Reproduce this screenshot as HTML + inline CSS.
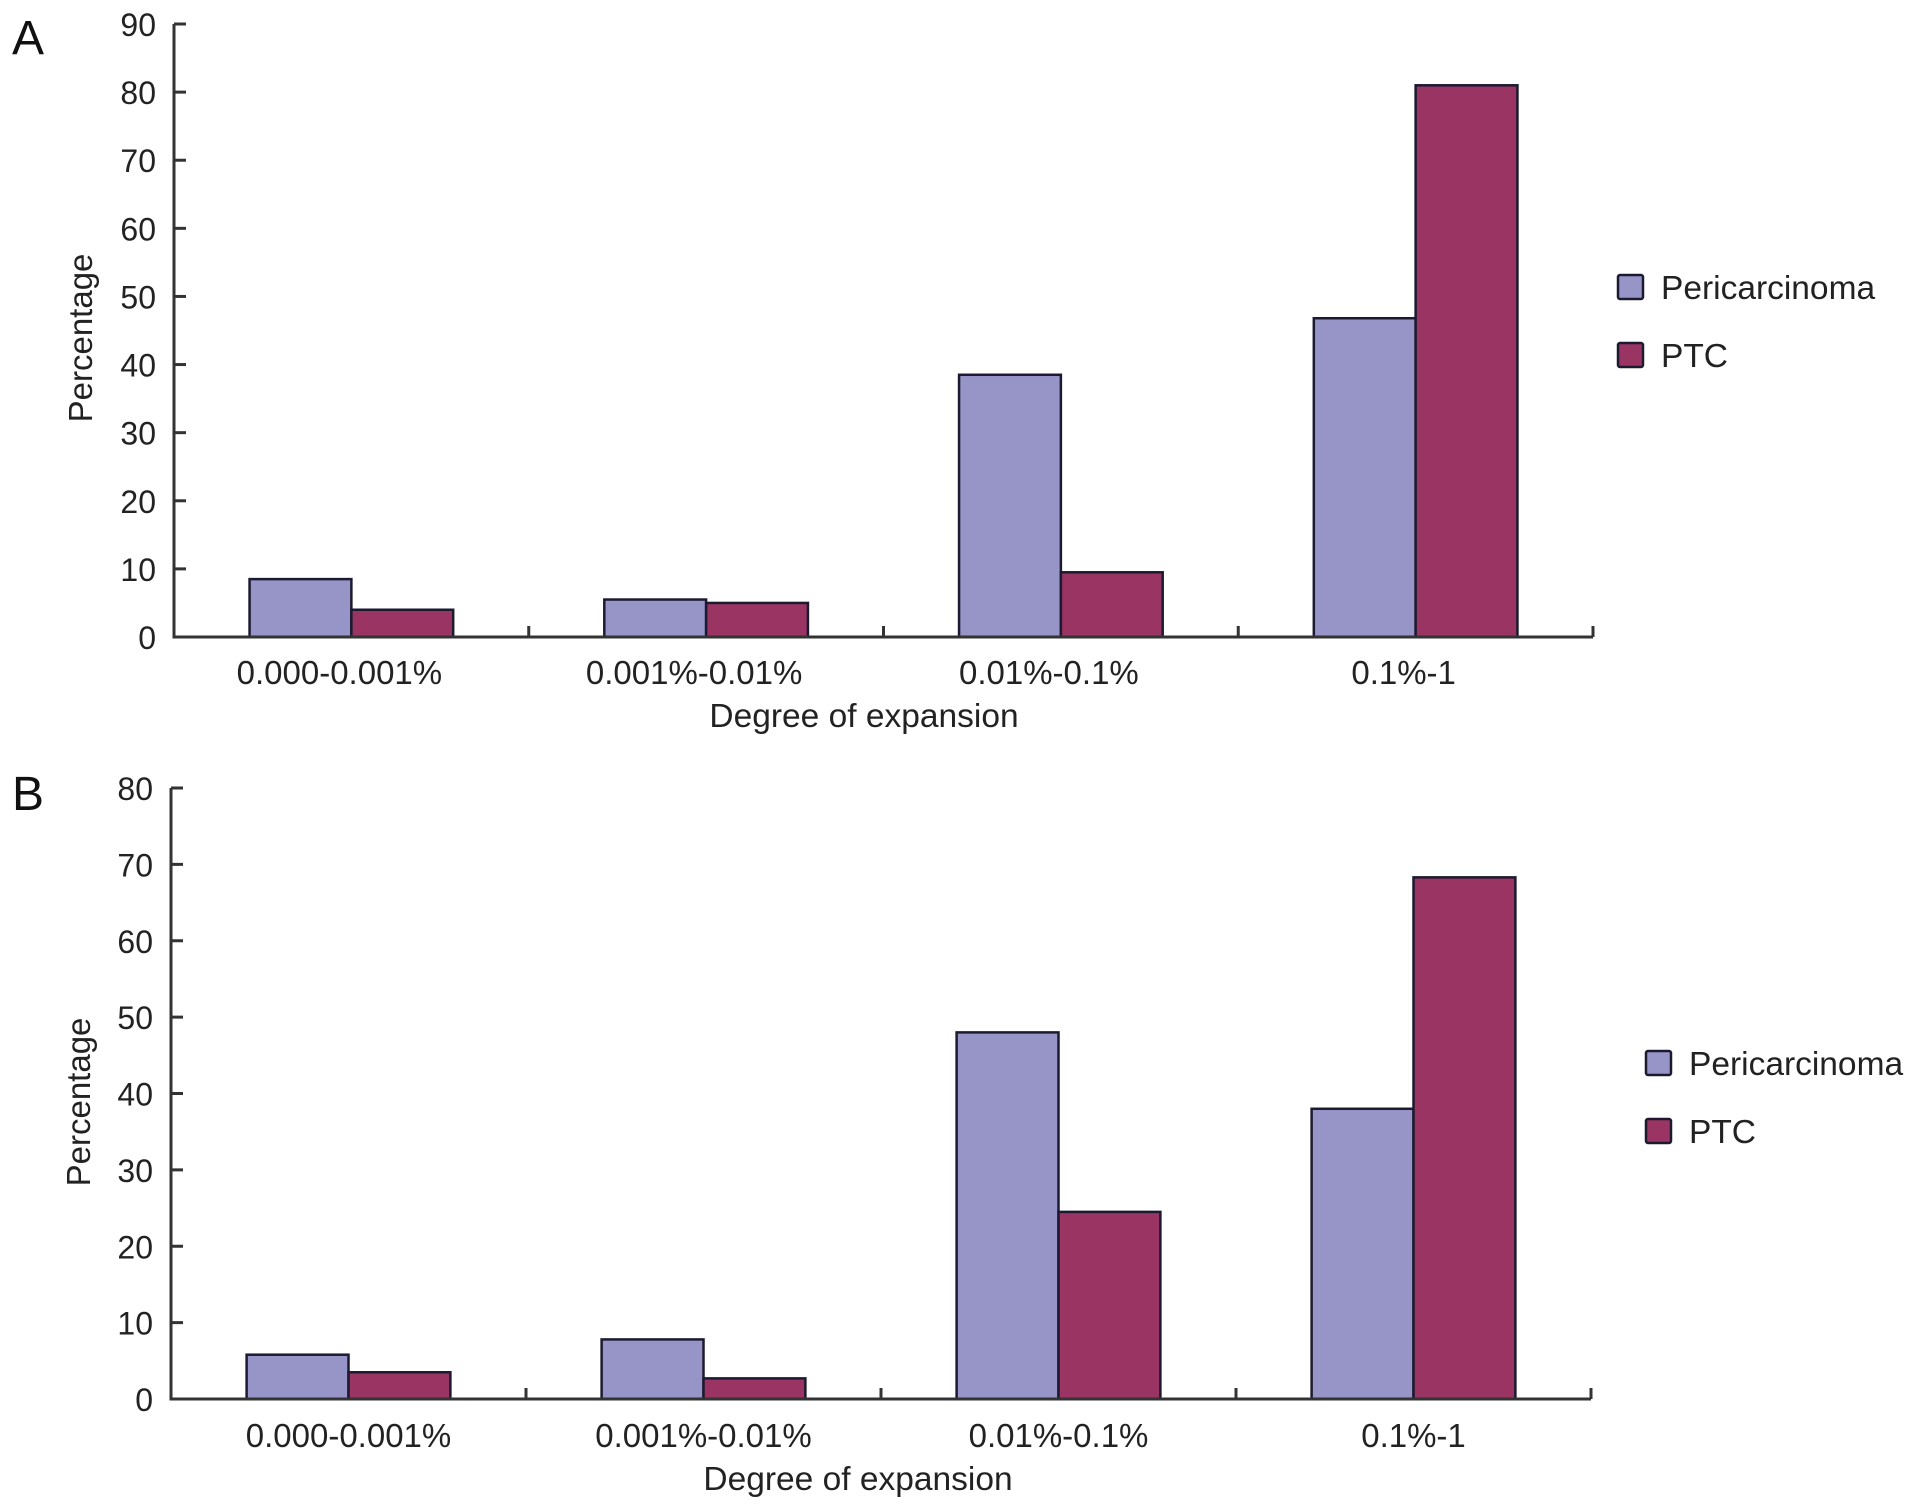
<!DOCTYPE html>
<html><head><meta charset="utf-8"><style>
html,body{margin:0;padding:0;background:#fff;}
svg{display:block;font-family:"Liberation Sans",Arial,sans-serif;}
</style></head><body>
<svg id="fig" width="1913" height="1510" viewBox="0 0 1913 1510"></svg>
<script>
const categories = ["0.000-0.001%","0.001%-0.01%","0.01%-0.1%","0.1%-1"];
const periA = [8.5, 5.5, 38.5, 46.8];
const ptcA = [4, 5, 9.5, 81];
const ticksA = [0,10,20,30,40,50,60,70,80,90];
const periB = [5.8, 7.8, 48, 38];
const ptcB = [3.5, 2.7, 24.5, 68.3];
const ticksB = [0,10,20,30,40,50,60,70,80];
const seriesNames = ["Pericarcinoma","PTC"];

const NS = "http://www.w3.org/2000/svg";
const svg = document.getElementById('fig');
const COL = ["#9795c8","#993463"];
const STROKE = "#1c1a30";
function mk(tag, attrs, parent){
  const e = document.createElementNS(NS, tag);
  for (const k in attrs) e.setAttribute(k, attrs[k]);
  (parent||svg).appendChild(e);
  return e;
}

function drawChart(cfg){
  const g = mk('g', {});
  
  
  const maxV = cfg.ticks[cfg.ticks.length-1];
  const y = v => cfg.y0 - (v/maxV)*(cfg.y0-cfg.yTop);
  const catW = (cfg.xEnd - cfg.x0)/categories.length;
  const x = i => cfg.x0 + i*catW;
  const L = mk('text', {x:cfg.letterX, y:cfg.letterY, 'font-size':48, fill:'#111'}, g);
  L.textContent = cfg.letter;
  
  
  const bw = catW*0.287, off = catW*0.213;
  categories.forEach((c,i)=>{
    [cfg.peri[i], cfg.ptc[i]].forEach((v,s)=>{
      const r = mk('rect', {x:x(i)+off+s*bw, y:y(v), width:bw, height:cfg.y0-y(v), fill:COL[s], stroke:STROKE, 'stroke-width':2.5}, g);
      
      
    });
    const t = mk('text', {x:x(i)+catW/2+cfg.catDx, y:cfg.catY, 'font-size':33, 'text-anchor':'middle', fill:'#222'}, g);
    t.textContent = c;
    
    
    const tk = mk('line', {x1:x(i+1), x2:x(i+1), y1:cfg.y0, y2:cfg.y0-11, stroke:'#333', 'stroke-width':3}, g);
    
    
  });
  const ax = mk('path', {d:`M${cfg.x0},${cfg.yTop} V${cfg.y0} H${cfg.xEnd}`, fill:'none', stroke:'#333', 'stroke-width':3}, g);
  
  
  cfg.ticks.forEach(v=>{
    const tl = mk('line', {x1:cfg.x0, x2:cfg.x0+12, y1:y(v), y2:y(v), stroke:'#333', 'stroke-width':3}, g);
    
    
    const tt = mk('text', {x:cfg.x0-18, y:y(v)+12, 'font-size':32, 'text-anchor':'end', fill:'#222'}, g);
    tt.textContent = v;
    
    
  });
  const yt = mk('text', {x:0, y:0, 'font-size':33, 'text-anchor':'middle', fill:'#222', transform:`translate(${cfg.ytX},${cfg.ytY}) rotate(-90)`}, g);
  yt.textContent = 'Percentage';
  
  
  const xt = mk('text', {x:cfg.xtX, y:cfg.xtY, 'font-size':33.5, 'text-anchor':'middle', fill:'#222'}, g);
  xt.textContent = 'Degree of expansion';
  
  
  seriesNames.forEach((n,s)=>{
    const ly = cfg.legY + s*cfg.legGap;
    const sq = mk('rect', {x:cfg.legX, y:ly-12, width:25, height:24, rx:2, fill:COL[s], stroke:STROKE, 'stroke-width':2.5}, g);
    
    
    const lt = mk('text', {x:cfg.legX+43, y:ly+12, 'font-size':33.5, fill:'#222'}, g);
    lt.textContent = n;
    
    
  });
}

drawChart({id:'chart-a', letter:'A', letterX:12, letterY:54, x0:174, xEnd:1593, yTop:24, y0:637,
  peri:periA, ptc:ptcA, ticks:ticksA, catY:684, catDx:-12, xtX:864, xtY:727, ytX:92, ytY:338,
  legX:1618, legY:287, legGap:68});
drawChart({id:'chart-b', letter:'B', letterX:12, letterY:810, x0:171, xEnd:1591, yTop:788, y0:1399,
  peri:periB, ptc:ptcB, ticks:ticksB, catY:1447, catDx:0, xtX:858, xtY:1490, ytX:90, ytY:1102,
  legX:1646, legY:1063, legGap:68});
</script>
</body></html>
